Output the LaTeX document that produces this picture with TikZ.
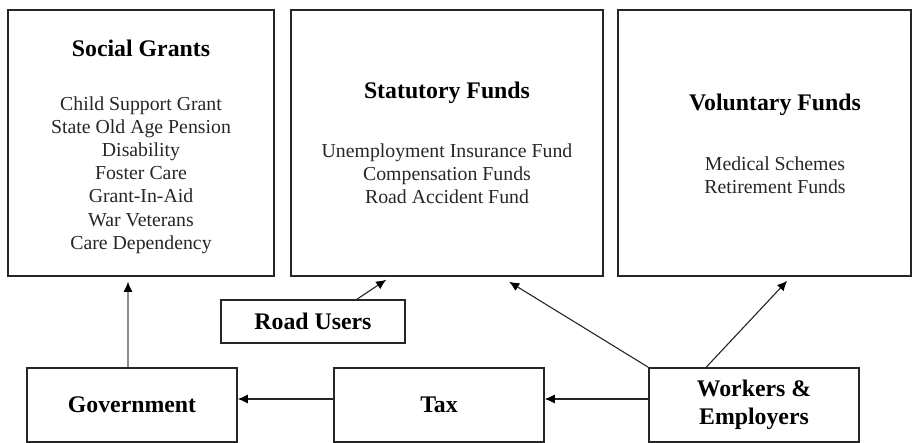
\documentclass[tikz,border=0pt]{standalone}
\usepackage{fontspec}
\setmainfont{Liberation Serif}
\usetikzlibrary{arrows.meta,calc}
\begin{document}
\begin{tikzpicture}[x=1pt,y=-1pt,
  box/.style={draw=black!85,line width=1.6pt,rectangle,inner sep=0pt},
  bigbox/.style={box,minimum height=266pt},
  smallbox/.style={box,minimum width=210pt,minimum height=74pt,align=center,
    font=\fontsize{23.8}{28}\selectfont\bfseries},
  title/.style={font=\fontsize{23.8}{28}\selectfont\bfseries,inner sep=0pt},
  items/.style={font=\fontsize{19.8}{23.2}\selectfont,align=center,inner sep=0pt,text=black!85},
  arr/.style={line width=1.1pt,draw=black!85,-{Latex[length=10pt,width=9pt,color=black]}}
]
\useasboundingbox (0,0) rectangle (919,443);

% top boxes
\node[bigbox,minimum width=266pt] (sg) at (141,143) {};
\node[bigbox,minimum width=312pt] (sf) at (447,143) {};
\node[bigbox,minimum width=293pt] (vf) at (764.5,143) {};

\node[title] (sgt) at (141,48) {Social Grants};
\node[items] (sgi) at (141,175) {Child Support Grant\\State Old Age Pension\\Disability\\Foster Care\\Grant-In-Aid\\War Veterans\\Care Dependency};

\node[title] (sft) at (447,93) {Statutory Funds};
\node[items] (sfi) at (447,174) {Unemployment Insurance Fund\\Compensation Funds\\Road Accident Fund};

\node[title] (vft) at (775,105) {Voluntary Funds};
\node[items] (vfi) at (775,175) {Medical Schemes\\Retirement Funds};

% lower boxes
\node[box,minimum width=184pt,minimum height=43pt,font=\fontsize{23.8}{28}\selectfont\bfseries] (ru) at (313,321.5) {Road Users};
\node[smallbox] (gov) at (132,405) {\raisebox{-2pt}{Government}};
\node[smallbox] (tax) at (439,405) {\raisebox{-2pt}{Tax}};
\node[smallbox] (we) at (754,405) {\raisebox{-4pt}{\begin{tabular}{@{}c@{}}Workers \&\\Employers\end{tabular}}};

% connectors
\draw[arr,draw=black!45] ($(gov.north)+(-4,0)$) -- ($(gov.north |- sg.south)+(-4,5)$);
\draw[arr] ($(tax.west)+(0,-6)$) -- ($(gov.east)+(0,-6)$);
\draw[arr] ($(we.west)+(0,-6)$) -- ($(tax.east)+(0,-6)$);
\draw[arr] ($(ru.north)+(44,0)$) -- ($(sf.south west)+(96,3)$);
\draw[arr] (we.north west) -- ($(sf.south west)+(219,5)$);
\draw[arr] ($(we.north west)+(58,0)$) -- ($(vf.south west)+(170,4)$);
\end{tikzpicture}
\end{document}
